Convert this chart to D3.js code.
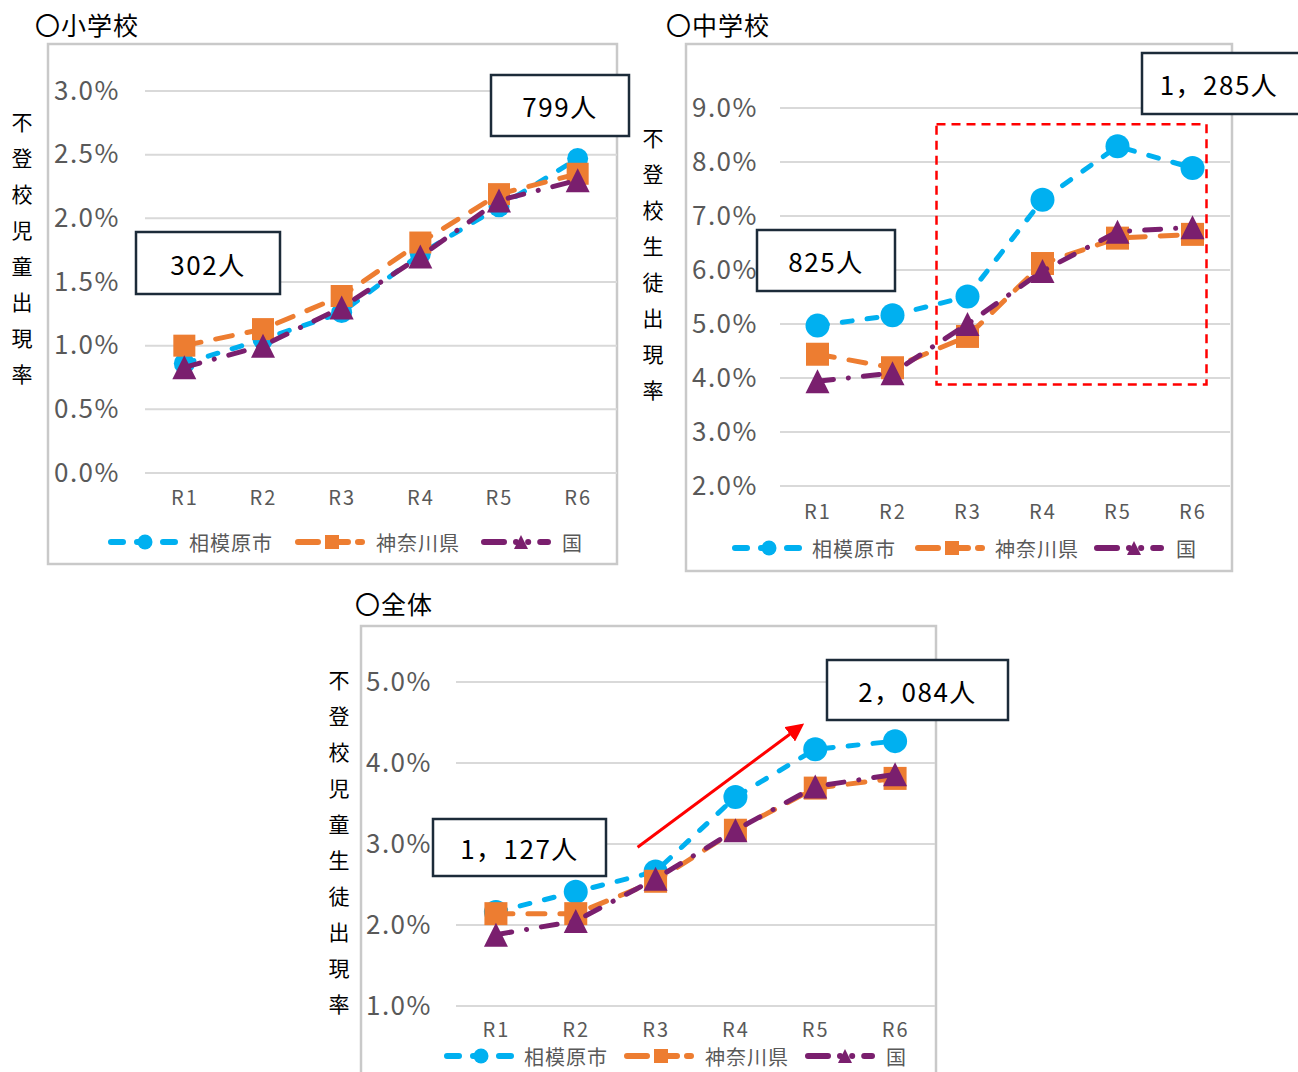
<!DOCTYPE html>
<html>
<head>
<meta charset="utf-8">
<title>不登校出現率</title>
<script src="https://d3js.org/d3.v7.min.js"></script>
<style>
  body { margin: 0; background: #fff; font-family: 'Noto Sans CJK JP', sans-serif; }
  svg text { font-family: 'Noto Sans CJK JP', sans-serif; }
</style>
</head>
<body>
<div id="chart"></div>
<script>
const categories = ["R1", "R2", "R3", "R4", "R5", "R6"];
const seriesNames = ["相模原市", "神奈川県", "国"];

// 小学校
const elemCity = [0.86, 1.05, 1.26, 1.72, 2.09, 2.47];
const elemPref = [1.00, 1.13, 1.39, 1.81, 2.19, 2.35];
const elemNat  = [0.83, 1.00, 1.30, 1.70, 2.14, 2.30];
const elemTicks = [0, 0.5, 1.0, 1.5, 2.0, 2.5, 3.0];

// 中学校
const jhCity = [4.97, 5.16, 5.51, 7.30, 8.29, 7.89];
const jhPref = [4.44, 4.19, 4.77, 6.12, 6.59, 6.66];
const jhNat  = [3.94, 4.09, 5.00, 5.98, 6.71, 6.79];
const jhTicks = [2, 3, 4, 5, 6, 7, 8, 9];

// 全体
const allCity = [2.16, 2.41, 2.66, 3.58, 4.17, 4.27];
const allPref = [2.14, 2.14, 2.54, 3.17, 3.69, 3.81];
const allNat  = [1.88, 2.05, 2.57, 3.17, 3.71, 3.86];
const allTicks = [1, 2, 3, 4, 5];

const colors = ["#00B0F0", "#ED7D31", "#7A1F6E"];
const dashes = ["10,15", "17,15", "16,15,0.1,15"];
const fmt = d => d3.format(".1f")(d) + "%";

const svg = d3.select("#chart").append("svg")
    .attr("width", 1298)
    .attr("height", 1072);

svg.append("defs").append("marker")
    .attr("id", "arrow")
    .attr("viewBox", "0 0 10 10")
    .attr("refX", 8).attr("refY", 5)
    .attr("markerWidth", 6).attr("markerHeight", 6)
    .attr("markerUnits", "strokeWidth")
    .attr("orient", "auto")
    .append("path")
    .attr("d", "M0,0 L10,5 L0,10 Z")
    .attr("fill", "#FF0000");

function drawMarker(g, kind, cx, cy, size, color) {
    if (kind === 0) {
        g.append("circle").attr("cx", cx).attr("cy", cy).attr("r", size / 2).attr("fill", color);
    } else if (kind === 1) {
        g.append("rect").attr("x", cx - size / 2).attr("y", cy - size / 2)
            .attr("width", size).attr("height", size).attr("fill", color);
    } else {
        const h = size;
        g.append("path")
            .attr("d", `M${cx},${cy - h / 2} L${cx + size / 2},${cy + h / 2} L${cx - size / 2},${cy + h / 2} Z`)
            .attr("fill", color);
    }
}

function drawChart(c) {
    const g = svg.append("g");

    // title
    g.append("text")
        .attr("x", c.title[1]).attr("y", c.title[2])
        .attr("font-size", 25).attr("letter-spacing", 1).attr("fill", "#000")
        .text(c.title[0]);

    // frame
    g.append("rect")
        .attr("x", c.frame[0]).attr("y", c.frame[1])
        .attr("width", c.frame[2] - c.frame[0]).attr("height", c.frame[3] - c.frame[1])
        .attr("fill", "#fff").attr("stroke", "#C9C9C9").attr("stroke-width", 2.5);

    const x = d3.scalePoint().domain(categories).range(c.xRange).padding(0.5);
    const y = d3.scaleLinear().domain(c.yDomain).range(c.yRange);

    // grid
    g.append("g").selectAll("line").data(c.ticks).join("line")
        .attr("x1", c.xRange[0]).attr("x2", c.xRange[1])
        .attr("y1", d => y(d)).attr("y2", d => y(d))
        .attr("stroke", "#D9D9D9").attr("stroke-width", 2);

    // y axis labels
    const yAxis = g.append("g")
        .attr("transform", `translate(${c.yLabelRight},0)`)
        .call(d3.axisLeft(y).tickValues(c.ticks).tickFormat(fmt).tickSize(0).tickPadding(0));
    yAxis.select(".domain").remove();
    yAxis.selectAll("text")
        .attr("font-size", 26).attr("fill", "#595959")
        .attr("letter-spacing", 1.5)
        .attr("font-family", "'Noto Sans CJK JP', sans-serif");

    // x axis labels
    const xAxis = g.append("g")
        .attr("transform", `translate(0,${c.xLabelY})`)
        .call(d3.axisBottom(x).tickSize(0).tickPadding(0));
    xAxis.select(".domain").remove();
    xAxis.selectAll("text")
        .attr("font-size", 20).attr("fill", "#595959")
        .attr("letter-spacing", 2)
        .attr("dy", "0.35em")
        .attr("font-family", "'Noto Sans CJK JP', sans-serif");

    // vertical y title
    g.append("g").selectAll("text").data(Array.from(c.yTitle[0])).join("text")
        .attr("x", c.yTitle[1])
        .attr("y", (d, i) => c.yTitle[2] + i * 36)
        .attr("text-anchor", "middle")
        .attr("dominant-baseline", "central")
        .attr("font-size", 21).attr("fill", "#000")
        .text(d => d);

    // red dashed highlight
    if (c.redBox) {
        const rb = c.redBox;
        const x0 = x(rb.from) + rb.dx0, x1 = x(rb.to) + rb.dx1;
        g.append("rect")
            .attr("x", x0).attr("y", y(rb.top))
            .attr("width", x1 - x0).attr("height", y(rb.bottom) - y(rb.top))
            .attr("fill", "none").attr("stroke", "#FF0000")
            .attr("stroke-width", 2.5).attr("stroke-dasharray", "9,6");
    }

    // series
    const data = [c.city, c.pref, c.nat];
    const line = d3.line().x((d, i) => x(categories[i])).y(d => y(d));
    data.forEach((vals, k) => {
        g.append("path")
            .datum(vals)
            .attr("d", line)
            .attr("fill", "none")
            .attr("stroke", colors[k])
            .attr("stroke-width", 5)
            .attr("stroke-linecap", "round")
            .attr("stroke-dasharray", dashes[k]);
        const mg = g.append("g");
        vals.forEach((v, i) => drawMarker(mg, k, x(categories[i]), y(v), c.markerSize[k], colors[k]));
    });

    // legend
    c.legend.forEach((pos, k) => {
        const lg = g.append("g");
        lg.append("line")
            .attr("x1", pos[0]).attr("x2", pos[0] + 64)
            .attr("y1", c.legendY).attr("y2", c.legendY)
            .attr("stroke", colors[k]).attr("stroke-width", 6)
            .attr("stroke-linecap", "round")
            .attr("stroke-dasharray", k === 0 ? "12,14" : k === 1 ? "20,10" : "20,12,0.1,12,0.1,12");
        drawMarker(lg, k, pos[0] + (k === 2 ? 37 : 34), c.legendY, k === 0 ? 15 : 14, colors[k]);
        lg.append("text")
            .attr("x", pos[1]).attr("y", c.legendY)
            .attr("dominant-baseline", "central")
            .attr("font-size", 20).attr("letter-spacing", 1)
            .attr("fill", "#595959")
            .text(seriesNames[k]);
    });

    // arrow
    if (c.arrow) {
        const a = c.arrow;
        g.append("line")
            .attr("x1", x(a.from) + a.dx0).attr("y1", y(a.y0))
            .attr("x2", x(a.to) + a.dx1).attr("y2", y(a.y1))
            .attr("stroke", "#FF0000").attr("stroke-width", 3)
            .attr("marker-end", "url(#arrow)");
    }

    // count boxes
    c.boxes.forEach(b => {
        g.append("rect")
            .attr("x", b[0]).attr("y", b[1]).attr("width", b[2]).attr("height", b[3])
            .attr("fill", "#fff").attr("stroke", "#1C2B39").attr("stroke-width", 2.5);
        g.append("text")
            .attr("x", b[0] + b[2] / 2 + (b[5] || 0)).attr("y", b[1] + b[3] / 2)
            .attr("text-anchor", "middle").attr("dominant-baseline", "central")
            .attr("font-size", 26).attr("letter-spacing", 1.5).attr("fill", "#000")
            .text(b[4]);
    });
}

drawChart({
    title: ["〇小学校", 35, 35],
    frame: [48, 44, 617, 564],
    xRange: [145, 617],
    yDomain: [0, 3], yRange: [473, 91],
    ticks: elemTicks,
    yLabelRight: 120,
    xLabelY: 498,
    yTitle: ["不登校児童出現率", 22, 121],
    city: elemCity, pref: elemPref, nat: elemNat,
    markerSize: [21, 22, 24],
    legendY: 542,
    legend: [[111, 189], [298, 376], [484, 562]],
    boxes: [[136, 232, 144, 62, "302人"], [491, 75, 138, 61, "799人"]]
});

drawChart({
    title: ["〇中学校", 666, 35],
    frame: [686, 44, 1232, 571],
    xRange: [780, 1230],
    yDomain: [2, 9], yRange: [486, 108],
    ticks: jhTicks,
    yLabelRight: 758,
    xLabelY: 512,
    yTitle: ["不登校生徒出現率", 653, 137],
    city: jhCity, pref: jhPref, nat: jhNat,
    markerSize: [24, 23, 24],
    legendY: 548,
    legend: [[735, 812], [918, 995], [1097, 1176]],
    redBox: { from: "R3", to: "R6", dx0: -31, dx1: 14, top: 8.7, bottom: 3.88 },
    boxes: [[757, 230, 138, 61, "825人"], [1142, 53, 170, 61, "1，285人", -8]]
});

drawChart({
    title: ["〇全体", 355, 614],
    frame: [361, 626, 936, 1090],
    xRange: [456, 935],
    yDomain: [1, 5], yRange: [1006, 682],
    ticks: allTicks,
    yLabelRight: 432,
    xLabelY: 1030,
    yTitle: ["不登校児童生徒出現率", 339, 679],
    city: allCity, pref: allPref, nat: allNat,
    markerSize: [24, 23, 24],
    legendY: 1056,
    legend: [[447, 524], [627, 705], [808, 886]],
    arrow: { from: "R3", to: "R5", dx0: -18, dx1: -14, y0: 2.96, y1: 4.46 },
    boxes: [[433, 819, 173, 57, "1，127人"], [827, 660, 181, 60, "2，084人"]]
});
</script>
</body>
</html>
